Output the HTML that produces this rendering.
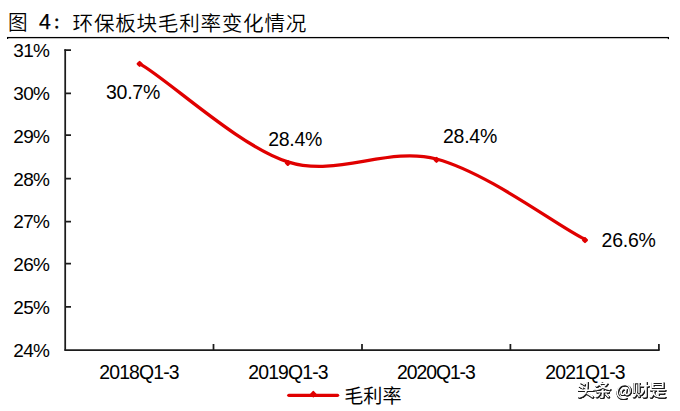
<!DOCTYPE html>
<html lang="zh">
<head>
<meta charset="utf-8">
<title>图 4：环保板块毛利率变化情况</title>
<style>
html,body{margin:0;padding:0;background:#fff;}
body{width:680px;height:411px;overflow:hidden;position:relative;font-family:"Liberation Sans","Noto Sans CJK SC",sans-serif;}
svg{position:absolute;left:0;top:0;display:block;}
text{font-family:"Liberation Sans","Noto Sans CJK SC",sans-serif;fill:#000;}
.t{font-size:19.6px;font-weight:350;}
.t4{font-size:21.2px;stroke:#000;stroke-width:0.25px;}
.tc{font-size:15px;stroke:#000;stroke-width:0.5px;}
.y{font-size:19px;text-anchor:end;letter-spacing:-0.7px;}
.x{font-size:19.4px;text-anchor:middle;letter-spacing:-0.85px;}
.d{font-size:19.5px;text-anchor:middle;letter-spacing:-0.25px;}
.lg{font-size:19.1px;}
.wm{font-size:17px;fill:#fff;font-weight:500;}
.at{font-family:"Noto Sans CJK SC","Liberation Sans",sans-serif;font-size:16.5px;}
</style>
</head>
<body>
<svg width="680" height="411" viewBox="0 0 680 411">
  <rect width="680" height="411" fill="#fff"/>
  <!-- title -->
  <g transform="translate(0,30) scale(1,1.043)">
    <text class="t" x="8.1" y="0">图</text>
  </g>
  <text class="t4" x="39.1" y="28.6">4</text>
  <text class="tc" x="53.1" y="27.9">：</text>
  <g transform="translate(0,30.6) scale(1,1.005)">
    <text class="t" x="72.6" y="0" style="font-size:20.6px;letter-spacing:0.72px">环保板块毛利率变化情况</text>
  </g>
  <rect x="7" y="36.95" width="662" height="1.3" fill="#000"/>
  <rect x="7" y="37.2" width="1.2" height="1.8" fill="#000"/>
  <rect x="667.8" y="37.2" width="1.2" height="1.9" fill="#000"/>
  <!-- axes -->
  <g stroke="#1c1c1c" stroke-width="1.75" fill="none">
    <path d="M65.2 49.3V350.6"/>
    <path d="M64.4 350H659.7"/>
    <path d="M64.4 50.1H71M65 93.4H71M65 135H71M65 178.5H71M65 221.6H71M65 263.6H71M65 306.8H71"/>
    <path d="M213.5 344V350M362 344V350M510.4 344V350M658.9 344V350"/>
  </g>
  <!-- y labels -->
  <text class="y" x="49.3" y="57">31%</text>
  <text class="y" x="49.3" y="99.9">30%</text>
  <text class="y" x="49.3" y="142.7">29%</text>
  <text class="y" x="49.3" y="185.6">28%</text>
  <text class="y" x="49.3" y="228.4">27%</text>
  <text class="y" x="49.3" y="271.3">26%</text>
  <text class="y" x="49.3" y="314.1">25%</text>
  <text class="y" x="49.3" y="357">24%</text>
  <!-- x labels -->
  <text class="x" x="139" y="378.5">2018Q1-3</text>
  <text class="x" x="288" y="378.5">2019Q1-3</text>
  <text class="x" x="435.9" y="378.5" style="letter-spacing:-1.08px">2020Q1-3</text>
  <text class="x" x="585" y="378.5">2021Q1-3</text>
  <!-- series -->
  <path d="M139.6 63.6 C167.7 79.3 239.9 147.1 287.8 161.8 C337.3 177.7 387.0 146.1 436.5 159.0 C489.7 173.6 558.2 226.7 584.6 239.1" fill="none" stroke="#e00000" stroke-width="3.3" stroke-linecap="round"/>
  <g fill="#e00000" stroke="#e00000" stroke-width="2.2" stroke-linejoin="round">
    <path d="M139.6 62.0L141.5 63.9L139.6 65.8L137.7 63.9Z"/>
    <path d="M287.8 161.1L289.7 163.0L287.8 164.9L285.9 163.0Z"/>
    <path d="M436.5 158.0L438.4 159.9L436.5 161.8L434.6 159.9Z"/>
    <path d="M585.0 238.2L586.9 240.1L585.0 242.0L583.1 240.1Z"/>
  </g>
  <!-- data labels -->
  <text class="d" x="133.0" y="98.8">30.7%</text>
  <text class="d" x="295.2" y="146">28.4%</text>
  <text class="d" x="470.0" y="142.8">28.4%</text>
  <text class="d" x="628.6" y="246.8">26.6%</text>
  <!-- legend -->
  <path d="M288.8 395.3H337.6" stroke="#e00000" stroke-width="3.3" stroke-linecap="round" fill="none"/>
  <path d="M313.3 391.6L315.9 394.2L313.3 396.8L310.7 394.2Z" fill="#e00000" stroke="#e00000" stroke-width="1.4" stroke-linejoin="round"/>
  <text class="lg" x="344.2" y="403.4">毛利率</text>
  <!-- watermark -->
  <filter id="ws" x="-5%" y="-30%" width="110%" height="170%" color-interpolation-filters="sRGB">
    <feOffset in="SourceAlpha" dx="0.4" dy="0.5" result="o1"/>
    <feOffset in="SourceAlpha" dx="1.2" dy="0.5" result="o2"/>
    <feOffset in="SourceAlpha" dx="0.4" dy="1.3" result="o3"/>
    <feOffset in="SourceAlpha" dx="1.2" dy="1.3" result="o4"/>
    <feOffset in="SourceAlpha" dx="0.8" dy="0.9" result="o5"/>
    <feMerge result="m"><feMergeNode in="o1"/><feMergeNode in="o2"/><feMergeNode in="o3"/><feMergeNode in="o4"/><feMergeNode in="o5"/></feMerge>
    <feFlood flood-color="#1a1a1a"/>
    <feComposite in2="m" operator="in" result="s"/>
    <feMerge><feMergeNode in="s"/><feMergeNode in="SourceGraphic"/></feMerge>
  </filter>
  <text class="wm" x="577.2" y="396" filter="url(#ws)">头条 <tspan class="at" x="615.8">@</tspan><tspan x="632.3">财是</tspan></text>
</svg>
</body>
</html>
